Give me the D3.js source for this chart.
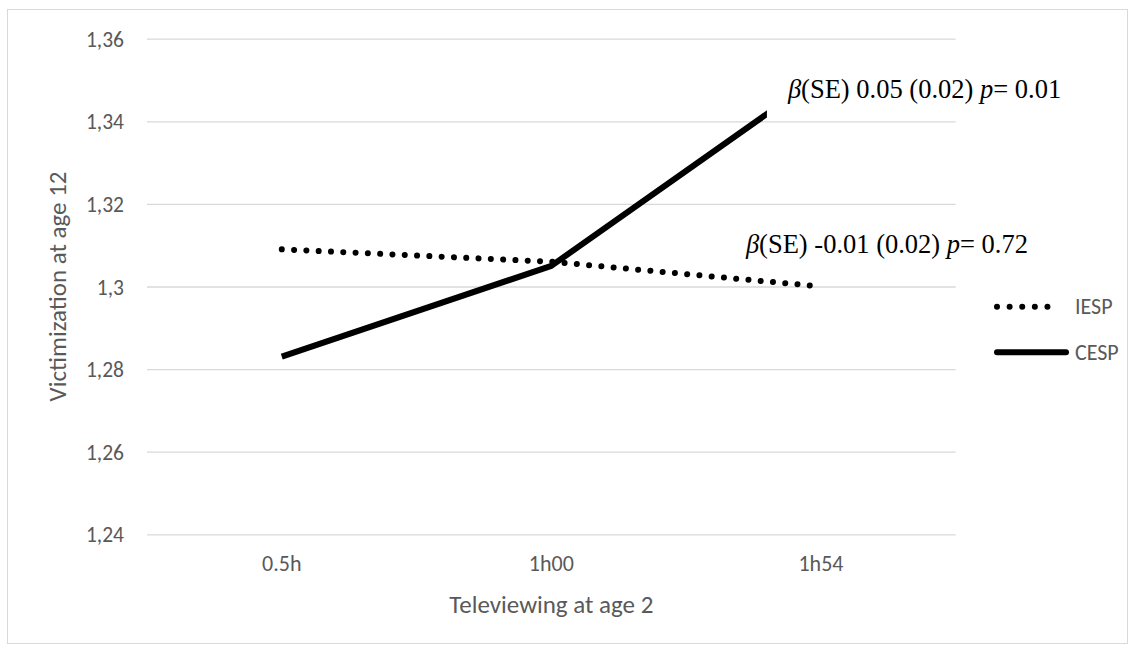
<!DOCTYPE html>
<html>
<head>
<meta charset="utf-8">
<script src="https://cdn.jsdelivr.net/npm/d3@7"></script>
<style>
  html, body { margin: 0; padding: 0; background: #fff; }
  svg { display: block; }
</style>
</head>
<body>
<svg width="1136" height="648"></svg>
<script>
// data
const categories = ["0.5h", "1h00", "1h54"];
const iesp = [1.309, 1.306, 1.300];
const cesp = [1.283, 1.305, 1.351];
const yTicks = [1.24, 1.26, 1.28, 1.30, 1.32, 1.34, 1.36];
const seriesNames = ["IESP", "CESP"];
const annotations = [
  { series: "CESP", beta: "0.05", se: "0.02", p: "0.01" },
  { series: "IESP", beta: "-0.01", se: "0.02", p: "0.72" }
];

const svg = d3.select("svg");
const W = 1136, H = 648;
const plot = { left: 147, right: 955.7, top: 38.7, bottom: 534.3 };
const font = "Carlito, Calibri, Lato, sans-serif";
const grey = "#595959";

// outer border
svg.append("rect")
  .attr("x", 7.5).attr("y", 9.5)
  .attr("width", W - 16).attr("height", H - 14)
  .attr("fill", "#fff").attr("stroke", "#d9d9d9").attr("stroke-width", 1);

const x = d3.scaleBand().domain(categories).range([plot.left, plot.right]).padding(0);
const y = d3.scaleLinear().domain([1.24, 1.36]).range([plot.bottom, plot.top]);
const cx = d => x(d) + x.bandwidth() / 2;

const fmt = d => String(+d.toFixed(2)).replace(".", ",");

// gridlines + y axis labels
const yAxis = d3.axisLeft(y).tickValues(yTicks).tickFormat(fmt)
  .tickSize(-(plot.right - plot.left)).tickPadding(23);
const gy = svg.append("g").attr("transform", `translate(${plot.left},0)`).call(yAxis);
gy.select(".domain").remove();
gy.selectAll(".tick line").attr("stroke", "#d9d9d9").attr("stroke-width", 1.3);
gy.selectAll(".tick text")
  .attr("font-family", font).attr("font-size", 21.5).attr("fill", grey).attr("dy", "0.35em");

// x axis labels
const xAxis = d3.axisBottom(x).tickSize(0).tickPadding(21);
const gx = svg.append("g").attr("transform", `translate(0,${plot.bottom})`).call(xAxis);
gx.select(".domain").remove();
gx.selectAll(".tick text")
  .attr("font-family", font).attr("font-size", 22).attr("fill", grey);

// axis titles
svg.append("text")
  .attr("x", (plot.left + plot.right) / 2).attr("y", 613)
  .attr("text-anchor", "middle")
  .attr("font-family", font).attr("font-size", 25).attr("fill", grey)
  .text("Televiewing at age 2");

svg.append("text")
  .attr("transform", `translate(66,${(plot.top + plot.bottom) / 2}) rotate(-90)`)
  .attr("text-anchor", "middle")
  .attr("font-family", font).attr("font-size", 25).attr("fill", grey)
  .text("Victimization at age 12");

// lines
const line = d3.line().x((d, i) => cx(categories[i])).y(d => y(d));

svg.append("path").datum(iesp)
  .attr("d", line).attr("fill", "none")
  .attr("stroke", "#000").attr("stroke-width", 6)
  .attr("stroke-linecap", "round").attr("stroke-dasharray", "0.01 12.3");

svg.append("path").datum(cesp)
  .attr("d", line).attr("fill", "none")
  .attr("stroke", "#000").attr("stroke-width", 6)
  .attr("stroke-linejoin", "round");

// annotations (data labels with white fill)
const labelOffsets = {
  CESP: { dx: -33, dy: 22, pad: { l: 20, r: 8, t: 8, b: 18 } },
  IESP: { dx: -75, dy: -33.5, pad: { l: 4, r: 4, t: 2, b: 2 } }
};
annotations.forEach(a => {
  const vals = a.series === "CESP" ? cesp : iesp;
  const last = categories.length - 1;
  const o = labelOffsets[a.series];
  const px = cx(categories[last]) + o.dx;
  const py = y(vals[last]) + o.dy;
  const g = svg.append("g");
  const bg = g.append("rect").attr("fill", "#fff");
  const t = g.append("text")
    .attr("x", px).attr("y", py)
    .attr("font-family", "'Liberation Serif', 'Times New Roman', serif")
    .attr("font-size", 26.5).attr("fill", "#000");
  t.append("tspan").attr("font-style", "italic").text("β");
  t.append("tspan").text(`(SE) ${a.beta} (${a.se}) `);
  t.append("tspan").attr("font-style", "italic").text("p");
  t.append("tspan").text(`= ${a.p}`);
  const bb = t.node().getBBox();
  bg.attr("x", bb.x - o.pad.l).attr("y", bb.y - o.pad.t)
    .attr("width", bb.width + o.pad.l + o.pad.r)
    .attr("height", Math.min(bb.height + o.pad.t + o.pad.b, py + 20 - (bb.y - o.pad.t)));
});

// legend
const legend = svg.append("g");
seriesNames.forEach((name, i) => {
  const ly = 306.7 + i * 45.6;
  const item = legend.append("g");
  const path = item.append("line")
    .attr("x1", 997).attr("x2", name === "IESP" ? 1060 : 1066)
    .attr("y1", ly).attr("y2", ly)
    .attr("stroke", "#000").attr("stroke-width", 6)
    .attr("stroke-linecap", "round");
  if (name === "IESP") path.attr("stroke-dasharray", "0.01 12.6");
  item.append("text")
    .attr("x", 1075).attr("y", ly).attr("dy", "0.35em")
    .attr("font-family", font).attr("font-size", 22).attr("fill", grey)
    .text(name);
});
</script>
</body>
</html>
